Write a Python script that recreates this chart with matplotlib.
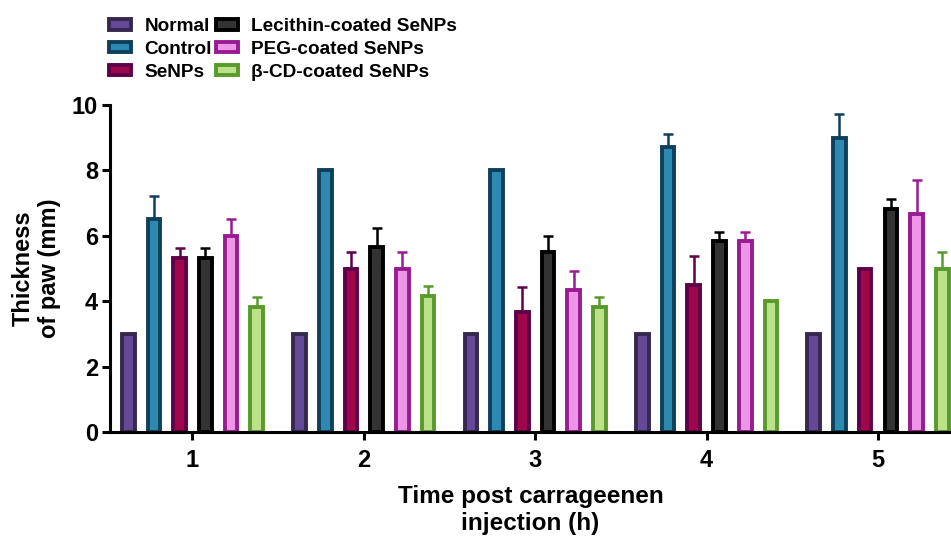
import numpy as np
import matplotlib.pyplot as plt
from matplotlib.patches import Patch

plt.rcParams['font.family'] = ['Liberation Sans', 'DejaVu Sans']
plt.rcParams['font.weight'] = 'bold'

# Time points (h)
hours = [1, 2, 3, 4, 5]
groups = ["Normal", "Control", "SeNPs", "Lecithin-coated SeNPs",
          "PEG-coated SeNPs", "\u03b2-CD-coated SeNPs"]

# mean thickness (mm), one list per group
normal = [3.0, 3.0, 3.0, 3.0, 3.0]
control = [6.5, 8.0, 8.0, 8.73, 9.0]
senps = [5.33, 5.0, 3.67, 4.5, 5.0]
lecithin = [5.33, 5.67, 5.5, 5.83, 6.83]
peg = [6.0, 5.0, 4.33, 5.83, 6.67]
bcd = [3.83, 4.17, 3.83, 4.0, 5.0]

# upper error (SD)
normal_err = [0, 0, 0, 0, 0]
control_err = [0.72, 0, 0, 0.38, 0.72]
senps_err = [0.29, 0.5, 0.76, 0.88, 0]
lecithin_err = [0.29, 0.58, 0.5, 0.29, 0.29]
peg_err = [0.5, 0.5, 0.58, 0.29, 1.04]
bcd_err = [0.29, 0.29, 0.29, 0, 0.5]

means = [normal, control, senps, lecithin, peg, bcd]
errs = [normal_err, control_err, senps_err, lecithin_err, peg_err, bcd_err]

faces = ["#644996", "#2C89B0", "#A0064B", "#333333", "#EE96E6", "#BDE08A"]
edges = ["#35284F", "#0F3F5C", "#5E0049", "#000000", "#991B93", "#589A2C"]

fig = plt.figure(figsize=(9.51, 5.36), dpi=100)
ax = fig.add_axes([110/951, 104/536, 841/951, 327/536])

step = 0.15
width = 0.074
x = np.array(hours, dtype=float)
for i, (m, e) in enumerate(zip(means, errs)):
    pos = x + (i - 2.5) * step
    ax.bar(pos, m, width=width, color=faces[i], edgecolor=edges[i],
           linewidth=2.8, zorder=2)
    e = np.array(e)
    has = e > 0
    ax.errorbar(pos[has], np.array(m)[has], yerr=[np.zeros(has.sum()), e[has]],
                fmt='none', ecolor=edges[i], elinewidth=1.8, capsize=3.8,
                capthick=1.8, zorder=1)

ax.set_xlim(0.519, 5.426)
ax.set_ylim(0, 10)
ax.set_xticks(hours)
ax.set_yticks([0, 2, 4, 6, 8, 10])
for s in ['top', 'right']:
    ax.spines[s].set_visible(False)
for s in ['left', 'bottom']:
    ax.spines[s].set_linewidth(2.2)
ax.tick_params(width=2.2, length=5.5, labelsize=17)
ax.tick_params(axis='x', pad=7)
ax.tick_params(axis='y', pad=3)
ax.set_xlabel("Time post carrageenen\ninjection (h)", fontsize=17.5,
              fontweight='bold', labelpad=9, linespacing=1.25)
ax.set_ylabel("Thickness\nof paw (mm)", fontsize=17, fontweight='bold',
              labelpad=8, linespacing=1.15)

handles = [Patch(facecolor=faces[i], edgecolor=edges[i], linewidth=2.8)
           for i in range(6)]
fig.legend(handles, groups, ncol=2, loc='upper left',
           bbox_to_anchor=(94/951, 1.0 - 3/536), frameon=False,
           prop={'size': 13.7, 'weight': 'bold'},
           handlelength=1.15, handleheight=0.45, handletextpad=0.7,
           columnspacing=0.2, labelspacing=0.3, borderpad=0.3)

fig.savefig("out.png", dpi=100)
